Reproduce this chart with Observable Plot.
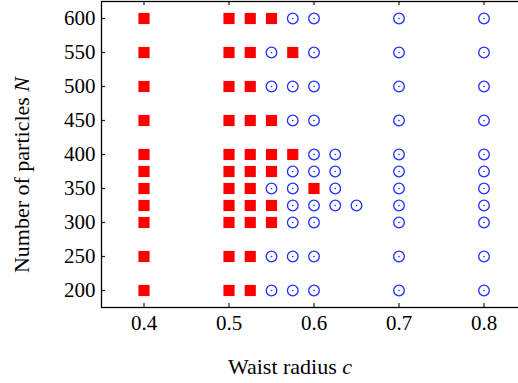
<!DOCTYPE html>
<html>
<head>
<meta charset="utf-8">
<script src="https://cdn.jsdelivr.net/npm/d3@7"></script>
<script src="https://cdn.jsdelivr.net/npm/@observablehq/plot@0.6"></script>
</head>
<body style="margin:0">
<div id="chart"></div>
<script>
// Waist radius values (columns) and particle numbers (rows)
const waistRadii = [0.4, 0.5, 0.525, 0.55, 0.575, 0.6, 0.625, 0.65, 0.7, 0.8];
const particleCounts = [200, 250, 300, 325, 350, 375, 400, 450, 500, 550, 600];
const xTicks = [0.4, 0.5, 0.6, 0.7, 0.8];
const yTicks = [200, 250, 300, 350, 400, 450, 500, 550, 600];

// Red squares per N: list of c values
const redByN = {
  600: [0.4, 0.5, 0.525, 0.55],
  550: [0.4, 0.5, 0.525, 0.575],
  500: [0.4, 0.5, 0.525],
  450: [0.4, 0.5, 0.525, 0.55],
  400: [0.4, 0.5, 0.525, 0.55, 0.575],
  375: [0.4, 0.5, 0.525, 0.55],
  350: [0.4, 0.5, 0.525, 0.6],
  325: [0.4, 0.5, 0.525, 0.55],
  300: [0.4, 0.5, 0.525, 0.55],
  250: [0.4, 0.5, 0.525],
  200: [0.4, 0.5, 0.525]
};
// Blue circles per N
const blueByN = {
  600: [0.575, 0.6, 0.7, 0.8],
  550: [0.55, 0.6, 0.7, 0.8],
  500: [0.55, 0.575, 0.6, 0.7, 0.8],
  450: [0.575, 0.6, 0.7, 0.8],
  400: [0.6, 0.625, 0.7, 0.8],
  375: [0.575, 0.6, 0.625, 0.7, 0.8],
  350: [0.55, 0.575, 0.625, 0.7, 0.8],
  325: [0.575, 0.6, 0.625, 0.65, 0.7, 0.8],
  300: [0.575, 0.6, 0.7, 0.8],
  250: [0.55, 0.575, 0.6, 0.7, 0.8],
  200: [0.55, 0.575, 0.6, 0.7, 0.8]
};

const redPts = particleCounts.flatMap(n => redByN[n].map(c => ({c, n})));
const bluePts = particleCounts.flatMap(n => blueByN[n].map(c => ({c, n})));

const W = 518, H = 383;
const mL = 101, mR = -8, mT = 1, mB = 76;
const plotW = W - mL - mR, plotH = H - mT - mB;
const tickLen = 4;
const blue = "#1f2fff";
const red = "#ff0000";
const FONT = "Liberation Serif";

const chart = Plot.plot({
  width: W,
  height: H,
  marginLeft: mL,
  marginRight: mR,
  marginTop: mT,
  marginBottom: mB,
  style: {fontFamily: FONT, fontSize: "20px"},
  x: {domain: [0.35, 0.85], ticks: xTicks},
  y: {domain: [175, 625], ticks: yTicks},
  marks: [
    Plot.axisX({ticks: xTicks, tickSize: 0, tickPadding: 8, tickFormat: d3.format(".1f"), label: null, fontSize: 21}),
    Plot.axisY({ticks: yTicks, tickSize: 0, tickPadding: 6, label: null, fontSize: 21}),
    // inward tick marks
    Plot.tickX(xTicks, {x: d => d, insetTop: plotH - tickLen, stroke: "#222", strokeWidth: 1.2}),
    Plot.tickX(xTicks, {x: d => d, insetBottom: plotH - tickLen, stroke: "#222", strokeWidth: 1.2}),
    Plot.tickY(yTicks, {y: d => d, insetRight: plotW - tickLen, stroke: "#222", strokeWidth: 1.2}),
    Plot.frame({stroke: "#000", strokeWidth: 1.3}),
    Plot.dot(redPts, {x: "c", y: "n", symbol: "square", r: 6.3, fill: red, stroke: "none"}),
    Plot.dot(bluePts, {x: "c", y: "n", r: 5.3, fill: "#fff", stroke: blue, strokeWidth: 1.3}),
    Plot.dot(bluePts, {x: "c", y: "n", r: 0.8, fill: blue, stroke: "none"})
  ]
});

const svg = d3.select(chart);
const xl = svg.append("text")
  .attr("x", 290).attr("y", 374)
  .attr("text-anchor", "middle")
  .attr("font-size", 22)
  .attr("fill", "#000");
xl.append("tspan").text("Waist radius ");
xl.append("tspan").attr("font-style", "italic").text("c");

const yl = svg.append("text")
  .attr("transform", "translate(29,175) rotate(-90)")
  .attr("text-anchor", "middle")
  .attr("font-size", 22)
  .attr("fill", "#000");
yl.append("tspan").text("Number of particles ");
yl.append("tspan").attr("font-style", "italic").text("N");

chart.style.setProperty("font-family", FONT, "important");
svg.selectAll("text, tspan").each(function() {
  this.setAttribute("font-family", FONT);
  this.style.setProperty("font-family", FONT, "important");
});

document.getElementById("chart").appendChild(chart);
</script>
</body>
</html>
